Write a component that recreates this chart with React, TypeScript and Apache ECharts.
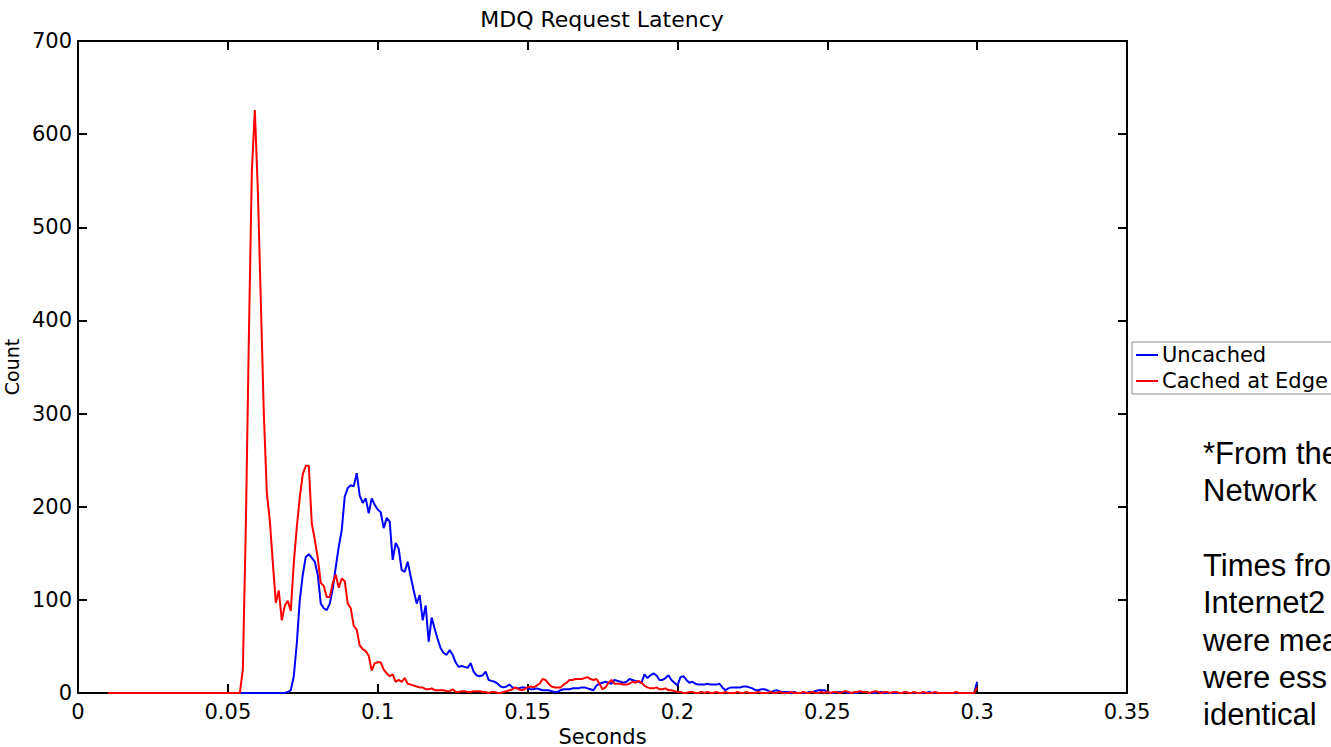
import React, { useEffect, useRef } from "react";
import * as echarts from "echarts";

// Histogram bins: first bin at 0.010 s, bin width 0.001 s
const BIN_START = 0.01;
const BIN_WIDTH = 0.001;

const xTicks = [0, 0.05, 0.1, 0.15, 0.2, 0.25, 0.3, 0.35];
const yTicks = [0, 100, 200, 300, 400, 500, 600, 700];

// Uncached (blue) counts, 0.010 .. 0.300
const uncachedCounts = [
  0, 0, 0, 0, 0, 0, 0, 0, 0, 0, // 0.010
  0, 0, 0, 0, 0, 0, 0, 0, 0, 0, // 0.020
  0, 0, 0, 0, 0, 0, 0, 0, 0, 0, // 0.030
  0, 0, 0, 0, 0, 0, 0, 0, 0, 0, // 0.040
  0, 0, 0, 0, 0, 0, 0, 0, 0, 0, // 0.050
  0, 0, 0, 0, 0, 0, 0, 0, 0, 0, // 0.060
  1, 3, 18, 53, 100, 127, 146, 149, 145, 141, // 0.070
  127, 96, 91, 89, 96, 112, 135, 157, 175, 211, // 0.080
  220, 223, 222, 236, 212, 204, 209, 193, 209, 202, // 0.090
  197, 194, 177, 188, 184, 143, 161, 155, 132, 130, // 0.100
  141, 125, 110, 96, 105, 78, 94, 55, 81, 69, // 0.110
  58, 48, 43, 41, 46, 41, 33, 28, 29, 28, // 0.120
  27, 32, 23, 19, 18, 19, 23, 14, 13, 12, // 0.130
  10, 7, 6, 7, 9, 6, 5, 5, 6, 6, // 0.140
  5, 4, 4, 5, 4, 3, 3, 3, 2, 1, // 0.150
  1, 3, 4, 4, 4, 5, 5, 5, 6, 6, // 0.160
  5, 4, 3, 8, 10, 11, 12, 11, 10, 14, // 0.170
  13, 12, 11, 12, 15, 14, 13, 12, 11, 20, // 0.180
  16, 19, 21, 19, 14, 14, 16, 19, 14, 11, // 0.190
  8, 17, 18, 14, 11, 12, 10, 9, 9, 9, // 0.200
  10, 9, 9, 9, 10, 6, 3, 5, 6, 6, // 0.210
  6, 6, 7, 7, 6, 5, 3, 3, 4, 4, // 0.220
  3, 1, 2, 3, 2, 1, 1, 1, 0, 1, // 0.230
  0, 0, 0, 0, 1, 1, 2, 3, 3, 3, // 0.240
  1, 0, 0, 1, 1, 1, 1, 0, 0, 0, // 0.250
  0, 1, 1, 1, 0, 0, 0, 1, 1, 0, // 0.260
  0, 0, 0, 0, 0, 0, 1, 0, 0, 0, // 0.270
  0, 0, 0, 0, 1, 0, 0, 0, 0, 0, // 0.280
  0, 0, 0, 0, 0, 0, 0, 0, 0, 0, // 0.290
  12, // 0.300
];

// Cached at Edge (red) counts, 0.010 .. 0.300
const cachedCounts = [
  0, 0, 0, 0, 0, 0, 0, 0, 0, 0, // 0.010
  0, 0, 0, 0, 0, 0, 0, 0, 0, 0, // 0.020
  0, 0, 0, 0, 0, 0, 0, 0, 0, 0, // 0.030
  0, 0, 0, 0, 0, 0, 0, 0, 0, 0, // 0.040
  0, 0, 0, 0, 0, 25, 180, 380, 560, 626, // 0.050
  540, 420, 300, 215, 185, 140, 97, 110, 78, 94, // 0.060
  99, 88, 140, 178, 210, 235, 244, 244, 182, 165, // 0.070
  145, 118, 115, 103, 103, 118, 127, 113, 123, 120, // 0.080
  96, 91, 72, 68, 51, 47, 45, 40, 24, 32, // 0.090
  33, 33, 25, 21, 18, 20, 12, 14, 12, 16, // 0.100
  10, 9, 8, 7, 6, 6, 4, 4, 5, 3, // 0.110
  3, 3, 3, 2, 2, 4, 1, 1, 2, 2, // 0.120
  1, 1, 2, 2, 2, 1, 1, 0, 1, 1, // 0.130
  0, 0, 1, 2, 3, 4, 6, 4, 3, 4, // 0.140
  6, 7, 6, 8, 10, 15, 14, 10, 7, 6, // 0.150
  6, 6, 9, 11, 14, 14, 15, 15, 15, 16, // 0.160
  17, 15, 14, 15, 10, 4, 6, 11, 14, 10, // 0.170
  10, 10, 9, 9, 10, 12, 11, 13, 11, 8, // 0.180
  6, 5, 5, 6, 4, 4, 5, 3, 3, 2, // 0.190
  1, 1, 0, 0, 1, 1, 0, 0, 1, 0, // 0.200
  1, 0, 0, 1, 0, 0, 1, 0, 0, 0, // 0.210
  1, 0, 0, 1, 0, 0, 0, 1, 0, 0, // 0.220
  0, 1, 0, 0, 1, 0, 0, 0, 1, 0, // 0.230
  0, 0, 1, 0, 0, 1, 0, 0, 1, 0, // 0.240
  1, 0, 1, 1, 0, 1, 2, 1, 0, 1, // 0.250
  1, 2, 1, 1, 0, 1, 2, 1, 0, 1, // 0.260
  1, 0, 1, 1, 0, 0, 1, 0, 0, 1, // 0.270
  0, 0, 1, 0, 0, 0, 1, 0, 0, 0, // 0.280
  0, 0, 0, 1, 0, 0, 0, 0, 0, 0, // 0.290
  6, // 0.300
];

const seriesNames = ["Uncached", "Cached at Edge"];
const seriesColors = ["#0000ff", "#ff0000"];

const noteLines = [
  "*From the",
  "Network",
  "",
  "Times fro",
  "Internet2",
  "were mea",
  "were ess",
  "identical",
];

const FONT = "DejaVu Sans";

export default function App() {
  const ref = useRef<HTMLDivElement>(null);

  useEffect(() => {
    if (!ref.current) return;
    const chart = echarts.init(ref.current, undefined, { renderer: "svg" });

    const toPairs = (arr: number[]) =>
      arr.map((v, i) => [+(BIN_START + i * BIN_WIDTH).toFixed(4), v]);

    const axisLineStyle = { color: "#000", width: 2 };
    const tickCommon = {
      show: true,
      inside: true,
      length: 9,
      lineStyle: { color: "#000", width: 2 },
    };

    const option: any = {
      animation: false,
      backgroundColor: "#ffffff",
      title: {
        text: "MDQ Request Latency",
        left: 602,
        textAlign: "center",
        top: 8,
        padding: 0,
        textStyle: {
          fontFamily: FONT,
          fontSize: 22,
          fontWeight: "normal",
          color: "#000",
        },
      },
      grid: {
        left: 78,
        right: 204,
        top: 41,
        bottom: 54,
        containLabel: false,
        outerBoundsMode: "none",
      },
      legend: {
        orient: "vertical",
        left: 1132,
        top: 342,
        padding: [2, 6, 2, 4],
        itemGap: 4,
        itemWidth: 22,
        itemHeight: 2,
        icon: "rect",
        borderColor: "#8c8c8c",
        borderWidth: 1,
        backgroundColor: "#fff",
        borderRadius: 0,
        data: seriesNames,
        textStyle: {
          fontFamily: FONT,
          fontSize: 21,
          color: "#000",
          lineHeight: 22,
          padding: [0, 0, 0, -1],
        },
      },
      xAxis: [
        {
          type: "value",
          min: 0,
          max: xTicks[xTicks.length - 1],
          interval: 0.05,
          position: "bottom",
          name: "Seconds",
          nameLocation: "middle",
          nameGap: 34,
          nameTextStyle: {
            fontFamily: FONT,
            fontSize: 21,
            color: "#000",
            lineHeight: 18,
          },
          axisLine: { show: true, onZero: false, lineStyle: axisLineStyle },
          axisTick: tickCommon,
          axisLabel: {
            fontFamily: FONT,
            fontSize: 21,
            color: "#000",
            margin: 8,
            showMinLabel: true,
            showMaxLabel: true,
            formatter: (v: number) => {
              const found = xTicks.find((t) => Math.abs(t - v) < 1e-9);
              return found === undefined ? "" : String(found);
            },
          },
          splitLine: { show: false },
        },
        {
          type: "value",
          min: 0,
          max: xTicks[xTicks.length - 1],
          interval: 0.05,
          position: "top",
          axisLine: { show: true, onZero: false, lineStyle: axisLineStyle },
          axisTick: tickCommon,
          axisLabel: { show: false },
          splitLine: { show: false },
        },
      ],
      yAxis: [
        {
          type: "value",
          min: 0,
          max: yTicks[yTicks.length - 1],
          interval: 100,
          position: "left",
          name: "Count",
          nameLocation: "middle",
          nameGap: 44,
          nameRotate: 90,
          nameTextStyle: { fontFamily: FONT, fontSize: 19, color: "#000" },
          axisLine: { show: true, onZero: false, lineStyle: axisLineStyle },
          axisTick: tickCommon,
          axisLabel: {
            fontFamily: FONT,
            fontSize: 21,
            color: "#000",
            margin: 6,
          },
          splitLine: { show: false },
        },
        {
          type: "value",
          min: 0,
          max: yTicks[yTicks.length - 1],
          interval: 100,
          position: "right",
          axisLine: { show: true, onZero: false, lineStyle: axisLineStyle },
          axisTick: tickCommon,
          axisLabel: { show: false },
          splitLine: { show: false },
        },
      ],
      series: [
        {
          name: seriesNames[0],
          type: "line",
          xAxisIndex: 0,
          yAxisIndex: 0,
          data: toPairs(uncachedCounts),
          showSymbol: false,
          symbol: "none",
          color: seriesColors[0],
          lineStyle: { color: seriesColors[0], width: 2 },
          z: 2,
        },
        {
          name: seriesNames[1],
          type: "line",
          xAxisIndex: 0,
          yAxisIndex: 0,
          data: toPairs(cachedCounts),
          showSymbol: false,
          symbol: "none",
          color: seriesColors[1],
          lineStyle: { color: seriesColors[1], width: 2 },
          z: 3,
        },
      ],
      graphic: noteLines
        .map((line, i) =>
          line
            ? {
                type: "text",
                left: 1203,
                top: 456 + i * 37.3 - 18,
                style: {
                  text: line,
                  font: '31px "Liberation Sans", Arial, sans-serif',
                  fill: "#000",
                },
              }
            : null
        )
        .filter(Boolean),
    };

    chart.setOption(option);
    return () => chart.dispose();
  }, []);

  return (
    <div
      ref={ref}
      style={{
        position: "fixed",
        left: 0,
        top: 0,
        width: 1331,
        height: 747,
        background: "#fff",
      }}
    />
  );
}
